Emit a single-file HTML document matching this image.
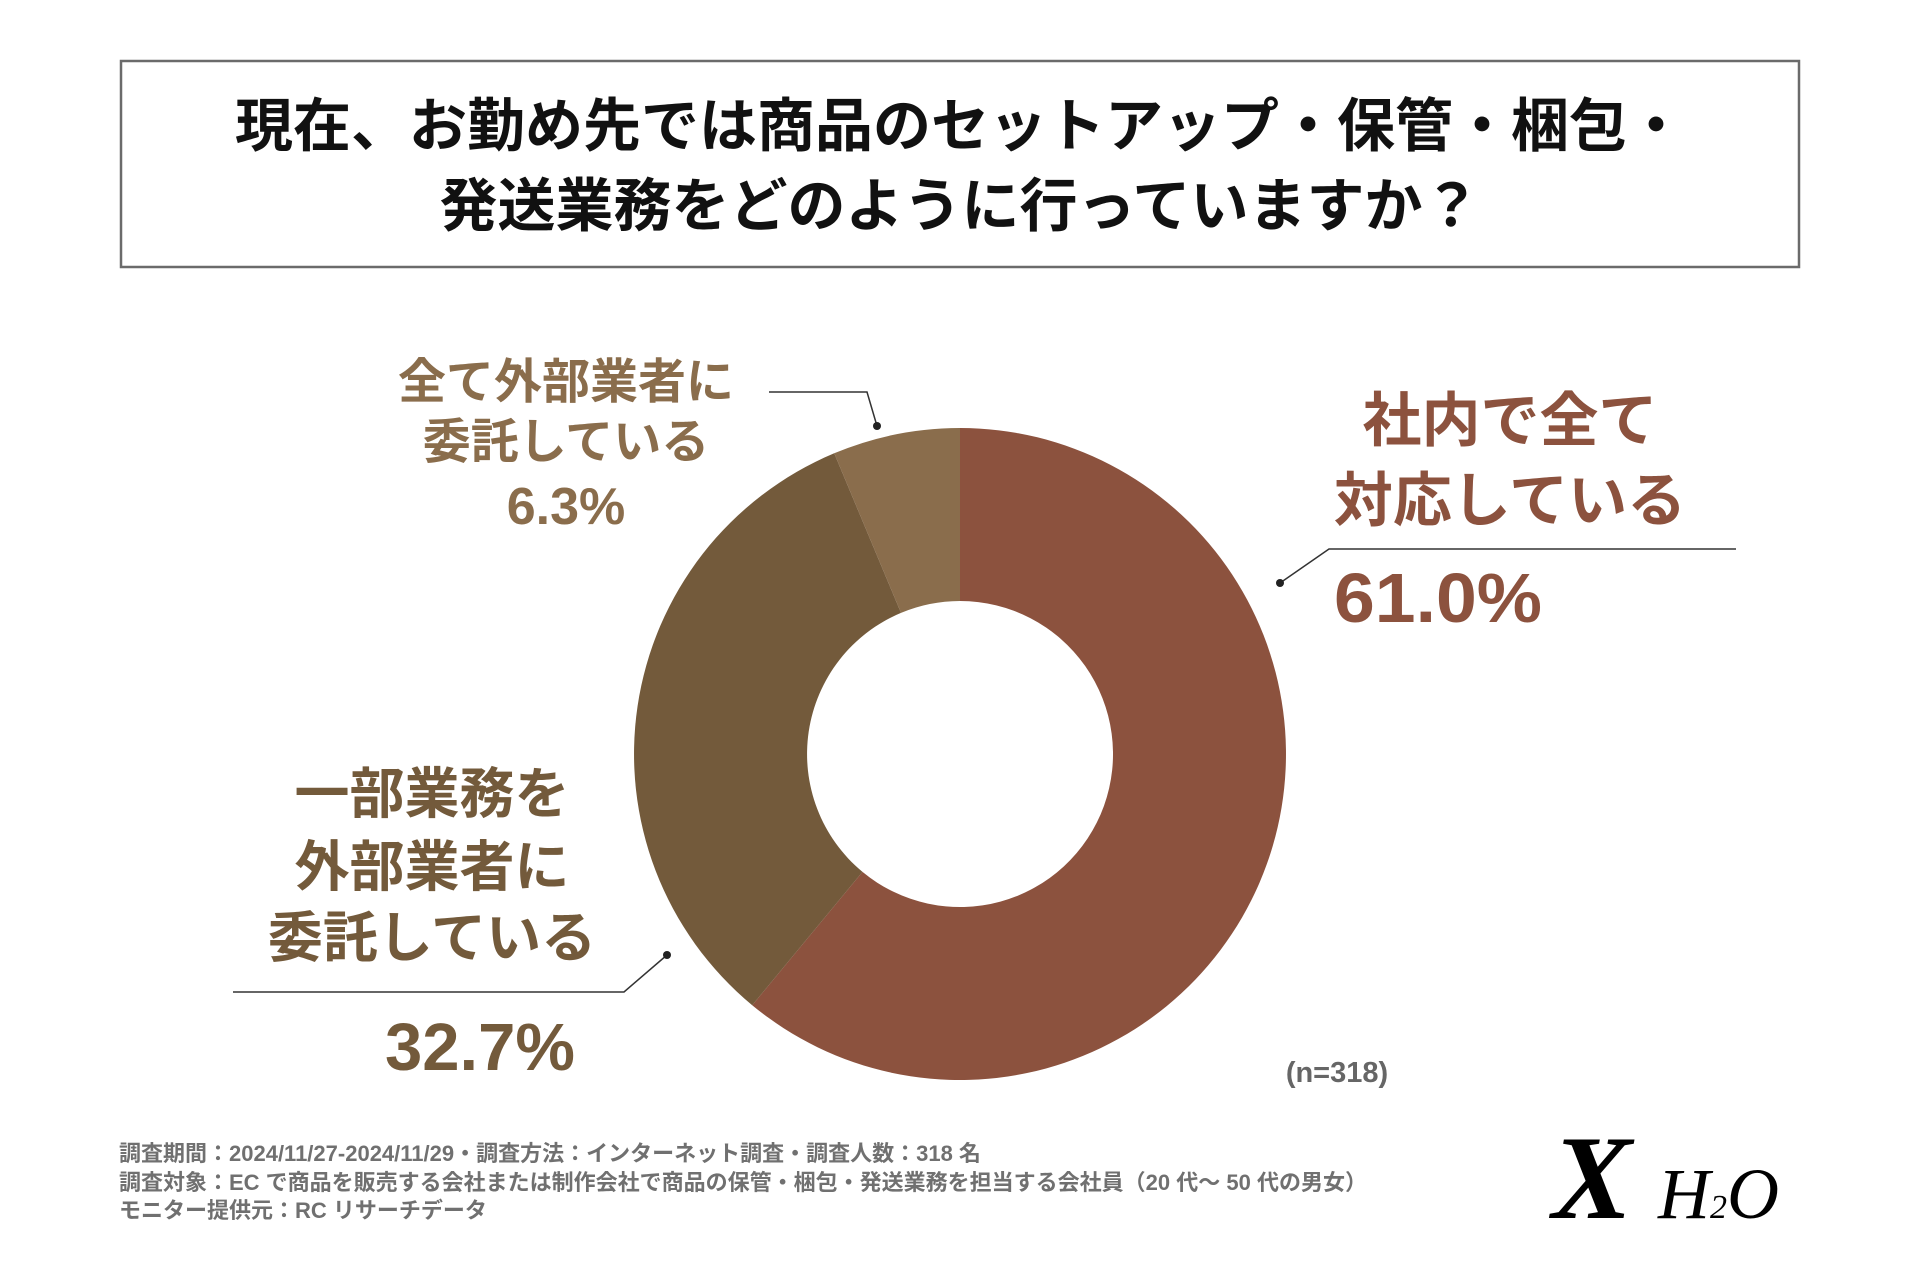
<!DOCTYPE html>
<html><head><meta charset="utf-8"><style>
html,body{margin:0;padding:0;background:#fff;}
svg{display:block;}
text{font-family:"Liberation Sans","Noto Sans CJK JP",sans-serif;font-weight:bold;}
</style></head><body>
<svg width="1920" height="1280" viewBox="0 0 1920 1280" xmlns="http://www.w3.org/2000/svg">
<rect x="0" y="0" width="1920" height="1280" fill="#fff"/>
<rect x="121" y="61" width="1678" height="206" fill="#fff" stroke="#6b6b6b" stroke-width="2.5"/>
<text x="960" y="146" text-anchor="middle" font-size="58" fill="#111">現在、お勤め先では商品のセットアップ・保管・梱包・</text>
<text x="960" y="226" text-anchor="middle" font-size="58" fill="#111">発送業務をどのように行っていますか？</text>

<path d="M960 428 A326 326 0 1 1 752.2 1005.2 L862.5 871.9 A153 153 0 1 0 960 601 Z" fill="#8c523e"/>
<path d="M752.2 1005.2 A326 326 0 0 1 834.2 453.3 L901 612.9 A153 153 0 0 0 862.5 871.9 Z" fill="#735a3b"/>
<path d="M834.2 453.3 A326 326 0 0 1 960 428 L960 601 A153 153 0 0 0 901 612.9 Z" fill="#8a6d4c"/>

<g fill="#8c523e">
<text x="1510" y="441" text-anchor="middle" font-size="59">社内で全て</text>
<text x="1510" y="521" text-anchor="middle" font-size="59">対応している</text>
<text x="1334" y="622" font-size="70" textLength="208" lengthAdjust="spacingAndGlyphs">61.0%</text>
</g>
<polyline points="1280,583 1329,549 1736,549" fill="none" stroke="#333" stroke-width="1.5"/>
<circle cx="1280" cy="583" r="4" fill="#222"/>

<g fill="#8a6d4c">
<text x="566" y="398" text-anchor="middle" font-size="48">全て外部業者に</text>
<text x="566" y="458" text-anchor="middle" font-size="48">委託している</text>
<text x="566" y="524" text-anchor="middle" font-size="52">6.3%</text>
</g>
<polyline points="769,392 867,392 877,426" fill="none" stroke="#333" stroke-width="1.5"/>
<circle cx="877" cy="426" r="4" fill="#222"/>

<g fill="#735a3b">
<text x="432" y="813" text-anchor="middle" font-size="55">一部業務を</text>
<text x="432" y="886" text-anchor="middle" font-size="55">外部業者に</text>
<text x="432" y="957" text-anchor="middle" font-size="55">委託している</text>
<text x="480" y="1070" text-anchor="middle" font-size="67">32.7%</text>
</g>
<polyline points="667,955 624,992 233,992" fill="none" stroke="#333" stroke-width="1.5"/>
<circle cx="667" cy="955" r="4" fill="#222"/>

<text x="1337" y="1082" text-anchor="middle" font-size="29" fill="#666">(n=318)</text>

<g fill="#707070" font-size="22">
<text x="119" y="1161">調査期間：2024/11/27-2024/11/29・調査方法：インターネット調査・調査人数：318 名</text>
<text x="119" y="1190">調査対象：EC で商品を販売する会社または制作会社で商品の保管・梱包・発送業務を担当する会社員（20 代～ 50 代の男女）</text>
<text x="119" y="1218">モニター提供元：RC リサーチデータ</text>
</g>

<text x="1552" y="1218" font-style="italic" font-size="120" fill="#000" style="font-family:'Liberation Serif',serif">X</text>
<text x="1658" y="1218" font-style="italic" font-size="72" fill="#000" style="font-family:'Liberation Serif',serif;font-weight:normal">H<tspan font-size="34">2</tspan>O</text>
</svg>
</body></html>
